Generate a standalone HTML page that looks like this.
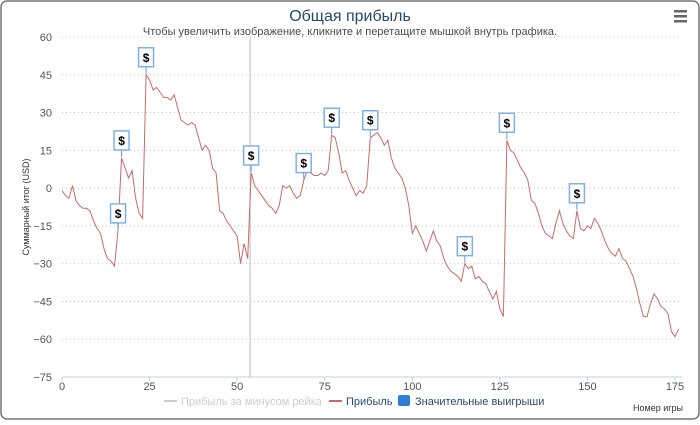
<!DOCTYPE html>
<html><head><meta charset="utf-8"><style>
body{margin:0;background:#fff;}
svg text{font-family:"Liberation Sans","DejaVu Sans",sans-serif;}
</style></head><body>
<svg id="c" width="700" height="420" xmlns="http://www.w3.org/2000/svg">
<rect x="1" y="1" width="698" height="418" rx="6" fill="#fff" stroke="#777" stroke-width="1.5"/>
<text x="350" y="21" text-anchor="middle" font-size="16" fill="#274b6d">Общая прибыль</text>
<text x="350" y="35" text-anchor="middle" font-size="11" fill="#4d4d4d">Чтобы увеличить изображение, кликните и перетащите мышкой внутрь графика.</text>
<g><rect x="674" y="10" width="13" height="2.5" fill="#666"/><rect x="674" y="15" width="13" height="2.5" fill="#666"/><rect x="674" y="20" width="13" height="2.5" fill="#666"/></g>
<g id="grid"></g><g id="yt"></g><g id="xt"></g>
<text transform="translate(29,207) rotate(-90)" text-anchor="middle" font-size="9" fill="#333">Суммарный итог (USD)</text>
<text x="683" y="411" text-anchor="end" font-size="9" fill="#333">Номер игры</text>
<g id="plot"></g>
<g>
<g><line x1="164" y1="401" x2="177" y2="401" stroke="#ccc" stroke-width="2"/><text x="181" y="405" font-size="11" fill="#ccc">Прибыль за минусом рейка</text></g>
<g><line x1="329" y1="401" x2="342" y2="401" stroke="#c96a6a" stroke-width="2"/><text x="346" y="405" font-size="11" fill="#274b6d">Прибыль</text></g>
<g><rect x="398" y="395" width="12" height="11" rx="2" fill="#2f7ed8"/><text x="415" y="405" font-size="11" fill="#274b6d">Значительные выигрыши</text></g>
</g>
</svg>
<script>
const profit=[-1,-3,-4,1,-5,-7,-8,-8,-9,-13,-16,-18,-24,-28,-29,-31,-17,12,8,4,7,-4,-10,-12,45,43,39,40,38,36,36,35,37,32,27,26,25,26,25,20,15,17,15,8,6,-9,-10,-13,-15,-17,-19,-30,-22,-28,6,1,-1,-3,-5,-7,-8,-10,-7,1,0,1,-2,-4,-3,3,7,6,5,5,6,5,7,21,20,14,6,7,3,0,-3,-1,-2,1,20,21,22,20,17,19,12,8,6,4,0,-7,-18,-15,-18,-21,-25,-21,-17,-21,-23,-28,-31,-33,-34,-35,-37,-30,-32,-31,-36,-35,-37,-38,-41,-44,-41,-48,-51,19,15,14,11,8,6,3,-5,-6,-10,-15,-18,-19,-20,-14,-9,-14,-17,-19,-20,-9,-16,-17,-15,-16,-12,-14,-17,-21,-24,-26,-27,-24,-28,-29,-32,-35,-40,-46,-51,-51,-46,-42,-44,-47,-48,-50,-57,-59,-56];
const winGames=[16,17,24,54,69,77,88,115,127,147];
const yTicks=[60,45,30,15,0,-15,-30,-45,-60,-75];
const xTicks=[0,25,50,75,100,125,150,175];
const plotLineGame=53.7;
const L=62,R=682,T=37,B=377;
const X=v=>L+v*(675-62)/175, Y=v=>T+(60-v)*(B-T)/135;
const ns="http://www.w3.org/2000/svg";
function mk(t,a,p){const e=document.createElementNS(ns,t);for(const k in a)e.setAttribute(k,a[k]);p.appendChild(e);return e;}
const grid=document.getElementById('grid'),yt=document.getElementById('yt'),xt=document.getElementById('xt'),plot=document.getElementById('plot');
yTicks.forEach(v=>{
 if(v>-75){const g=mk('line',{x1:L,x2:R,y1:Y(v),y2:Y(v),stroke:'#c0c0c0','stroke-dasharray':'1,3'},grid);
 
 }
 const t=mk('text',{x:52,y:Y(v)+4,'text-anchor':'end','font-size':11,fill:'#555'},yt);t.textContent=v===0?'0':(v<0?'−'+(-v):v);
 
 
});
const ax=mk('line',{x1:L,x2:R,y1:B,y2:B,stroke:'#c0d0e0'},xt);


xTicks.forEach(v=>{
 mk('line',{x1:X(v),x2:X(v),y1:B,y2:B+4,stroke:'#c0d0e0'},xt);
 const t=mk('text',{x:X(v),y:B+13,'text-anchor':'middle','font-size':11,fill:'#555'},xt);t.textContent=v;
 
 
});
const pl=mk('line',{x1:X(plotLineGame),x2:X(plotLineGame),y1:T,y2:B,stroke:'#bbb'},plot);


const pts=profit.map((v,i)=>X(i).toFixed(1)+','+Y(v).toFixed(1)).join(' ');
const line=mk('polyline',{points:pts,fill:'none',stroke:'#c96a6a','stroke-width':1},plot);


winGames.forEach(g=>{
 const px=X(g),py=Y(profit[g]);
 const f=mk('g',{},plot);
 
 
 mk('line',{x1:px,x2:px,y1:py-1,y2:py-8,stroke:'#5b9be6'},f);
 mk('rect',{x:px-7.5,y:py-27,width:15,height:19,fill:'#fff',stroke:'#7fb0ee','stroke-width':1.5},f);
 const t=mk('text',{x:px,y:py-13,'text-anchor':'middle','font-size':12,'font-weight':'bold',fill:'#000'},f);t.textContent='$';
});
</script>
</body></html>
